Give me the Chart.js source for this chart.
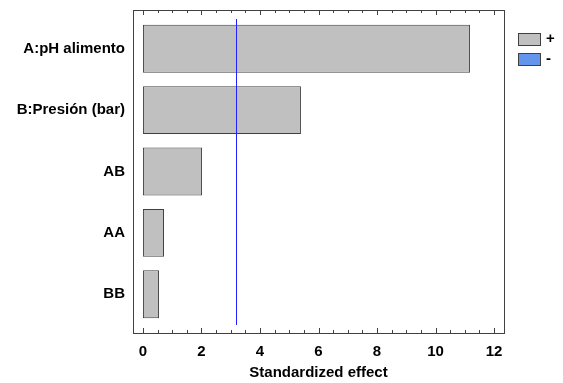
<!DOCTYPE html>
<html>
<head>
<meta charset="utf-8">
<script src="https://cdn.jsdelivr.net/npm/chart.js@4"></script>
<style>
  html, body { margin: 0; padding: 0; background: #fff; }
  #wrap { width: 563px; height: 383px; }
</style>
</head>
<body>
<div id="wrap"><canvas id="pareto" width="563" height="383"></canvas></div>
<script>
  // Pareto chart of standardized effects
  var effects = ["A:pH alimento", "B:Presión (bar)", "AB", "AA", "BB"];
  var positiveValues = [11.18, 5.40, 2.02, 0.72, 0.55];
  var negativeValues = [null, null, null, null, null];
  var xTicks = [0, 2, 4, 6, 8, 10, 12];
  var criticalValue = 3.18;

  var FONT = "'Liberation Sans', Arial, sans-serif";

  // frame, inward ticks, critical-value line and the small legend at the right
  var paretoDecor = {
    id: 'paretoDecor',
    afterDatasetsDraw: function(chart) {
      var ctx = chart.ctx;
      var area = chart.chartArea;
      var x = chart.scales.x;
      var top = area.top - 8, bottom = area.bottom + 8;
      ctx.save();
      ctx.strokeStyle = '#404040';
      ctx.lineWidth = 1;
      ctx.strokeRect(Math.round(area.left) + 0.5, Math.round(top) + 0.5,
        Math.round(area.right - area.left), Math.round(bottom - top));
      for (var v = xTicks[0]; v <= xTicks[xTicks.length - 1] + 1e-9; v += 0.5) {
        var px = Math.round(x.getPixelForValue(v)) + 0.5;
        var len = (xTicks.indexOf(v) >= 0) ? 5 : 3;
        ctx.beginPath();
        ctx.moveTo(px, bottom); ctx.lineTo(px, bottom - len);
        ctx.moveTo(px, top); ctx.lineTo(px, top + len);
        ctx.stroke();
      }
      var cx = Math.round(x.getPixelForValue(criticalValue)) + 0.5;
      ctx.strokeStyle = '#2020ff';
      ctx.beginPath();
      ctx.moveTo(cx, area.top + 1);
      ctx.lineTo(cx, area.bottom);
      ctx.stroke();

      // legend
      var lx = Math.round(area.right) + 14, ly = Math.round(top) + 23;
      ctx.font = 'bold 15px ' + FONT;
      ctx.textBaseline = 'middle';
      chart.data.datasets.forEach(function(ds, i) {
        var y = ly + i * 20;
        ctx.fillStyle = ds.backgroundColor;
        ctx.fillRect(lx, y, 22, 12);
        ctx.strokeStyle = '#404040';
        ctx.strokeRect(lx + 0.5, y + 0.5, 22, 12);
        ctx.fillStyle = '#000';
        ctx.fillText(ds.label, lx + 28, y + 6);
      });
      ctx.restore();
    }
  };

  new Chart(document.getElementById('pareto'), {
    type: 'bar',
    data: {
      labels: effects,
      datasets: [
        {
          label: '+',
          data: positiveValues,
          backgroundColor: '#c0c0c0',
          borderColor: '#404040',
          borderWidth: 1,
          borderSkipped: false,
          categoryPercentage: 1,
          barPercentage: 0.78,
          grouped: false
        },
        {
          label: '-',
          data: negativeValues,
          backgroundColor: '#6495ed',
          borderColor: '#404040',
          borderWidth: 1,
          borderSkipped: false,
          categoryPercentage: 1,
          barPercentage: 0.78,
          grouped: false
        }
      ]
    },
    options: {
      indexAxis: 'y',
      responsive: false,
      animation: false,
      layout: { padding: { top: 18, right: 59, left: 0, bottom: 0 } },
      scales: {
        x: {
          type: 'linear',
          min: -0.34,
          max: 12.34,
          afterBuildTicks: function(scale) {
            scale.ticks = xTicks.map(function(v) { return { value: v }; });
          },
          afterFit: function(scale) { scale.height = 58; },
          grid: { display: false, drawTicks: false },
          border: { display: false },
          ticks: {
            color: '#000',
            padding: 18,
            font: { family: FONT, size: 15, weight: 'bold' }
          },
          title: {
            display: true,
            text: 'Standardized effect',
            color: '#000',
            padding: { top: 0, bottom: 1 },
            font: { family: FONT, size: 15, weight: 'bold' }
          }
        },
        y: {
          afterFit: function(scale) { scale.width = 133; },
          grid: { display: false, drawTicks: false },
          border: { display: false },
          ticks: {
            color: '#000',
            padding: 8,
            font: { family: FONT, size: 15, weight: 'bold' }
          }
        }
      },
      plugins: {
        legend: { display: false },
        tooltip: { enabled: false }
      }
    },
    plugins: [paretoDecor]
  });
</script>
</body>
</html>
